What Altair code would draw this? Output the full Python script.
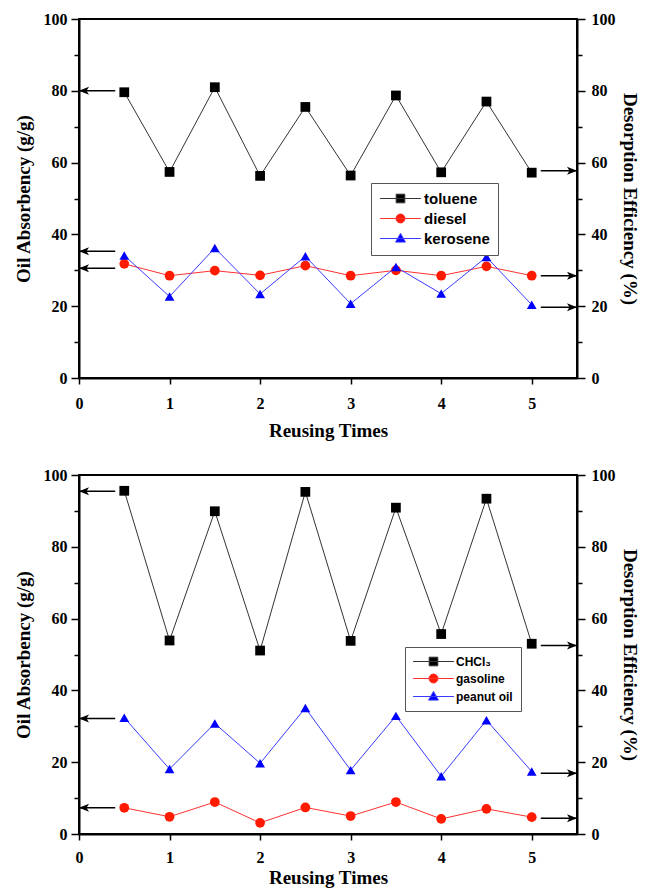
import altair as alt
import pandas as pd

# ---------------- data ----------------
reuse_x = [0.5, 1.0, 1.5, 2.0, 2.5, 3.0, 3.5, 4.0, 4.5, 5.0]

top_names = ["toluene", "diesel", "kerosene"]
toluene = [79.6, 57.4, 81.0, 56.3, 75.5, 56.4, 78.7, 57.3, 77.0, 57.2]
diesel = [31.8, 28.5, 29.9, 28.6, 31.3, 28.5, 30.0, 28.5, 31.1, 28.5]
kerosene = [34.1, 22.7, 36.2, 23.4, 33.9, 20.7, 30.9, 23.5, 33.7, 20.4]
top_left_arrows = [80.0, 35.3, 30.6]
top_right_arrows = [57.7, 28.5, 19.7]

bot_names = ["CHCl\u2083", "gasoline", "peanut oil"]
chcl3 = [95.6, 53.9, 89.9, 51.1, 95.3, 53.8, 90.9, 55.7, 93.4, 53.0]
gasoline = [7.3, 4.8, 8.9, 3.1, 7.4, 5.0, 8.9, 4.2, 7.0, 4.7]
peanut = [32.4, 18.1, 30.8, 19.7, 35.1, 17.8, 32.9, 16.1, 31.7, 17.4]
bot_left_arrows = [95.5, 32.2, 7.3]
bot_right_arrows = [52.5, 16.9, 4.4]

x_ticks = [0, 0.5, 1, 1.5, 2, 2.5, 3, 3.5, 4, 4.5, 5, 5.5]
y_ticks = [0, 10, 20, 30, 40, 50, 60, 70, 80, 90, 100]
arrow_left_span = [0.0, 0.4]
arrow_right_span = [5.1, 5.5]

# ---------------- style ----------------
line_colors = ["#333333", "#ff3030", "#3a3aff"]
mark_colors = ["#000000", "#ff1a00", "#0000ff"]
point_shapes = ["square", "circle", "triangle-up"]
legend_paths = [
    "M-3.4,0H3.4M-0.72,-0.72H0.72V0.72H-0.72Z",
    "M-3.4,0H3.4M0.75,0A0.75,0.75,0,1,1,-0.75,0A0.75,0.75,0,1,1,0.75,0Z",
    "M-3.4,0H3.4M0,-0.85L0.82,0.6H-0.82Z",
]
head_left = "M0,0L1,-0.4L0.75,0L1,0.4Z"
head_right = "M0,0L-1,-0.4L-0.75,0L-1,0.4Z"

SERIF = "Liberation Serif"
SANS = "Liberation Sans"
W, H = 498, 359
XS = alt.Scale(domain=[0, 5.5], nice=False)
YS = alt.Scale(domain=[0, 100], nice=False)


def panel(names, values, left_arrows, right_arrows, lx, ly, lfont, lrow, xlabel_pad, xtitle_pad):
    rows = []
    for n, vals in zip(names, values):
        for xv, yv in zip(reuse_x, vals):
            rows.append({"series": n, "x": xv, "y": yv})
    df = pd.DataFrame(rows)

    xenc = alt.X(
        "x:Q",
        scale=XS,
        axis=alt.Axis(
            values=x_ticks,
            format="d",
            labelExpr="datum.value % 1 === 0 ? datum.label : ''",
            title="Reusing Times",
            tickSize=6,
            labelPadding=xlabel_pad,
            titlePadding=xtitle_pad,
        ),
    )
    yaxis_left = alt.Axis(
        values=y_ticks,
        labelExpr="datum.value % 20 === 0 ? datum.label : ''",
        title="Oil Absorbency (g/g)",
        orient="left",
        tickSize={"condition": {"test": "datum.value % 20 === 0", "value": 8}, "value": 5},
        labelPadding=4,
        titlePadding=10,
    )
    yaxis_right = alt.Axis(
        values=y_ticks,
        labelExpr="datum.value % 20 === 0 ? datum.label : ''",
        title="Desorption Efficiency (%)",
        orient="right",
        tickSize={"condition": {"test": "datum.value % 20 === 0", "value": 8}, "value": 5},
        labelPadding=6,
        titlePadding=4,
    )

    base = alt.Chart(df)
    layers = []
    for i, n in enumerate(names):
        sub = base.transform_filter(alt.datum.series == n)
        layers.append(
            sub.mark_line(strokeWidth=1, color=line_colors[i]).encode(
                x=xenc,
                y=alt.Y("y:Q", scale=YS, axis=yaxis_left if i == 0 else None),
            )
        )
    for i, n in enumerate(names):
        sub = base.transform_filter(alt.datum.series == n)
        layers.append(
            sub.mark_point(filled=True, opacity=1, size=95, shape=point_shapes[i], color=mark_colors[i]).encode(
                x=xenc,
                y=alt.Y("y:Q", scale=YS, axis=None),
            )
        )
    leg = alt.Legend(
        orient="none",
        legendX=lx,
        legendY=ly,
        title=None,
        strokeColor="#555555",
        fillColor="white",
        padding=8,
        labelFont=SANS,
        labelFontWeight="bold",
        labelFontSize=lfont,
        labelColor="black",
        symbolSize=144,
        symbolStrokeWidth=1,
        symbolOffset=14,
        labelOffset=16,
        rowPadding=lrow,
        symbolOpacity=1,
    )
    layers.append(
        base.transform_filter("false")
        .mark_point(opacity=1, size=144, filled=True)
        .encode(
            x=xenc,
            y=alt.Y("y:Q", scale=YS, axis=None),
            fill=alt.Fill("series:N", scale=alt.Scale(domain=names, range=mark_colors), legend=leg),
            stroke=alt.Stroke("series:N", scale=alt.Scale(domain=names, range=line_colors), legend=leg),
            shape=alt.Shape("series:N", scale=alt.Scale(domain=names, range=legend_paths), legend=leg),
        )
    )

    la = pd.DataFrame({"y": left_arrows, "x0": arrow_left_span[0], "x1": arrow_left_span[1]})
    ra = pd.DataFrame({"y": right_arrows, "x0": arrow_right_span[0], "x1": arrow_right_span[1]})
    layers.append(
        alt.Chart(la).mark_rule(color="black", strokeWidth=1.5).encode(
            x=alt.X("x0:Q", scale=XS), x2="x1:Q", y=alt.Y("y:Q", scale=YS, axis=None)
        )
    )
    layers.append(
        alt.Chart(la).mark_point(shape=head_left, filled=True, color="black", size=400, opacity=1).encode(
            x=alt.X("x0:Q", scale=XS), y=alt.Y("y:Q", scale=YS, axis=None)
        )
    )
    layers.append(
        alt.Chart(ra).mark_rule(color="black", strokeWidth=1.5).encode(
            x=alt.X("x0:Q", scale=XS), x2="x1:Q", y=alt.Y("y:Q", scale=YS, axis=yaxis_right)
        )
    )
    layers.append(
        alt.Chart(ra).mark_point(shape=head_right, filled=True, color="black", size=400, opacity=1).encode(
            x=alt.X("x1:Q", scale=XS), y=alt.Y("y:Q", scale=YS, axis=None)
        )
    )

    return alt.layer(*layers).resolve_scale(y="independent").properties(width=W, height=H)


top = panel(top_names, [toluene, diesel, kerosene], top_left_arrows, top_right_arrows,
            292, 164, 15, 4, 11, 10)
bottom = panel(bot_names, [chcl3, gasoline, peanut], bot_left_arrows, bot_right_arrows,
               326, 172, 12, 4, 9, 3)

chart = (
    alt.vconcat(top, bottom, spacing=25)
    .resolve_scale(shape="independent", fill="independent", stroke="independent")
    .resolve_legend(fill="independent", stroke="independent", shape="independent")
    .properties(padding={"left": 5, "top": 2, "right": 0, "bottom": 0})
    .configure_view(stroke="black", strokeWidth=2)
    .configure_axis(
        domainColor="black",
        domainWidth=2,
        tickColor="black",
        tickWidth=1.5,
        grid=False,
        labelFont=SERIF,
        labelFontWeight="bold",
        labelFontSize=16,
        labelColor="black",
        titleFont=SERIF,
        titleFontWeight="bold",
        titleFontSize=19,
        titleColor="black",
        labelFlush=False,
        labelOverlap=False,
    )
)

chart.save("out.html", embed_options={"renderer": "svg", "actions": False})
